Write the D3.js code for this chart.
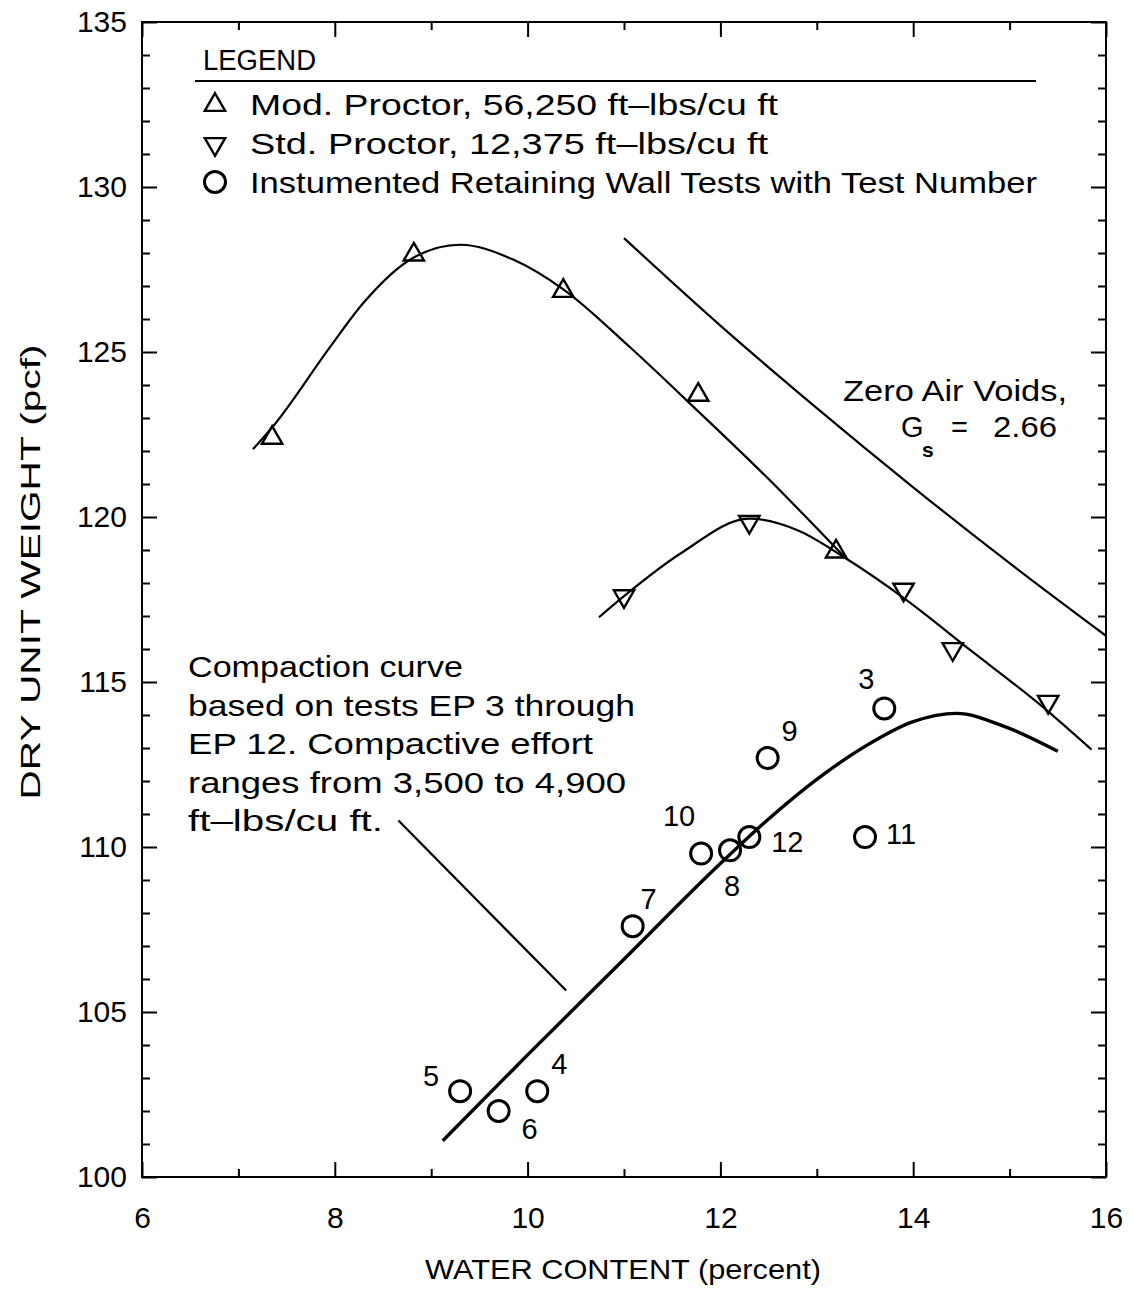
<!DOCTYPE html>
<html>
<head>
<meta charset="utf-8">
<script src="https://cdn.jsdelivr.net/npm/d3@7/dist/d3.min.js"></script>
<style>
  html, body { margin: 0; padding: 0; background: #fff; }
  svg text { font-family: "Liberation Sans", Arial, sans-serif; fill: #000; }
</style>
</head>
<body>
<svg id="chart" width="1134" height="1289"></svg>
<script>
// Compaction test data: water content (percent) vs dry unit weight (pcf)
const xMajorTicks = [6, 8, 10, 12, 14, 16];
const yMajorTicks = [100, 105, 110, 115, 120, 125, 130, 135];

// Modified Proctor points (upward triangles)
const modProctor = [[7.35, 122.4], [8.82, 127.95], [10.37, 126.85], [11.77, 123.7], [13.2, 118.95]];
// Standard Proctor points (downward triangles)
const stdProctor = [[11.0, 117.6], [12.3, 119.85], [13.9, 117.8], [14.41, 116.0], [15.4, 114.4]];
// Instrumented retaining wall tests: [test number, water content, dry unit weight]
const wallTests = [
  [3, 13.7, 114.2], [4, 10.1, 102.6], [5, 9.3, 102.6], [6, 9.7, 102.0],
  [7, 11.09, 107.6], [8, 12.1, 109.9], [9, 12.49, 112.7], [10, 11.8, 109.8],
  [11, 13.5, 110.3], [12, 12.3, 110.3]
];

// Fitted curves
const modCurve = [[7.15, 122.05], [7.36, 122.75], [7.95, 125.15], [8.3, 126.5], [8.81, 127.85],
  [9.3, 128.25], [9.85, 127.8], [10.37, 126.9], [11.06, 125.15], [11.77, 123.2],
  [12.5, 121.15], [13.3, 118.75]];
const stdCurve = [[10.74, 116.96], [11.0, 117.6], [11.59, 118.9], [12.3, 119.95],
  [12.8, 119.6], [13.3, 118.75], [13.9, 117.55], [14.6, 115.95], [15.3, 114.35], [15.85, 112.95]];
const zavCurve = [[11.0, 128.45], [12.0, 125.8], [13.0, 123.3], [14.0, 120.9], [15.0, 118.6], [16.0, 116.4]];
const fieldCurve = [[9.12, 101.1], [10.0, 103.7], [11.0, 106.6], [12.0, 109.5], [12.5, 110.85],
  [13.0, 112.05], [13.5, 113.05], [14.0, 113.8], [14.45, 114.05], [14.95, 113.65], [15.5, 112.9]];
// Leader from the note to the compaction curve
const leader = [[8.66, 110.8], [10.4, 105.65]];

const legendItems = [
  ["up", "Mod. Proctor, 56,250 ft\u2013lbs/cu ft"],
  ["down", "Std. Proctor, 12,375 ft\u2013lbs/cu ft"],
  ["circle", "Instumented Retaining Wall Tests with Test Number"]
];
const noteLines = [
  "Compaction curve",
  "based on tests EP 3 through",
  "EP 12.  Compactive effort",
  "ranges from 3,500 to 4,900",
  "ft\u2013lbs/cu ft."
];

// ---- layout ----
const svg = d3.select("#chart");
const L = 142, R = 1106, T = 22, B = 1177;
const x = d3.scaleLinear().domain([6, 16]).range([L, R]);
const y = d3.scaleLinear().domain([100, 135]).range([B, T]);

const lineGen = d3.line().x(d => x(d[0])).y(d => y(d[1]));
const smooth = d3.line().x(d => x(d[0])).y(d => y(d[1])).curve(d3.curveMonotoneX);

// frame
svg.append("rect").attr("x", L).attr("y", T).attr("width", R - L).attr("height", B - T)
  .attr("fill", "none").attr("stroke", "#000").attr("stroke-width", 2);

const xMinor = d3.range(7, 16, 2);
const yMinor = d3.range(100, 136, 1).filter(v => v % 5 !== 0);

function styleAxis(g) {
  g.select(".domain").remove();
  g.selectAll("line").attr("stroke", "#000").attr("stroke-width", 2);
  g.selectAll("text").style("font-size", "30px").attr("fill", "#000");
}

// bottom (labels + inward ticks)
svg.append("g").attr("transform", `translate(0,${B})`)
  .call(d3.axisBottom(x).tickValues(xMajorTicks).tickSizeInner(-15).tickSizeOuter(0).tickPadding(30).tickFormat(d3.format("d")))
  .call(styleAxis);
svg.append("g").attr("transform", `translate(0,${B})`)
  .call(d3.axisBottom(x).tickValues(xMinor).tickSize(-8).tickFormat(""))
  .call(styleAxis);
// top
svg.append("g").attr("transform", `translate(0,${T})`)
  .call(d3.axisTop(x).tickValues(xMajorTicks).tickSize(-15).tickFormat(""))
  .call(styleAxis);
svg.append("g").attr("transform", `translate(0,${T})`)
  .call(d3.axisTop(x).tickValues(xMinor).tickSize(-8).tickFormat(""))
  .call(styleAxis);
// left
svg.append("g").attr("transform", `translate(${L},0)`)
  .call(d3.axisLeft(y).tickValues(yMajorTicks).tickSizeInner(-15).tickSizeOuter(0).tickPadding(15).tickFormat(d3.format("d")))
  .call(styleAxis);
svg.append("g").attr("transform", `translate(${L},0)`)
  .call(d3.axisLeft(y).tickValues(yMinor).tickSize(-8).tickFormat(""))
  .call(styleAxis);
// right
svg.append("g").attr("transform", `translate(${R},0)`)
  .call(d3.axisRight(y).tickValues(yMajorTicks).tickSize(-15).tickFormat(""))
  .call(styleAxis);
svg.append("g").attr("transform", `translate(${R},0)`)
  .call(d3.axisRight(y).tickValues(yMinor).tickSize(-8).tickFormat(""))
  .call(styleAxis);

// axis titles
svg.append("text").attr("x", 623).attr("y", 1279).attr("text-anchor", "middle")
  .style("font-size", "28px").attr("textLength", 396).attr("lengthAdjust", "spacingAndGlyphs")
  .text("WATER CONTENT (percent)");
svg.append("text").attr("transform", "translate(40,572) rotate(-90)").attr("text-anchor", "middle")
  .style("font-size", "28px").attr("textLength", 455).attr("lengthAdjust", "spacingAndGlyphs")
  .text("DRY UNIT WEIGHT (pcf)");

// curves
const curves = svg.append("g").attr("fill", "none").attr("stroke", "#000");
curves.append("path").datum(modCurve).attr("d", smooth).attr("stroke-width", 2.2);
curves.append("path").datum(stdCurve).attr("d", smooth).attr("stroke-width", 2.2);
curves.append("path").datum(zavCurve).attr("d", smooth).attr("stroke-width", 2.2);
curves.append("path").datum(fieldCurve).attr("d", smooth).attr("stroke-width", 3.4);
curves.append("path").datum(leader).attr("d", lineGen).attr("stroke-width", 2.2);

// markers
const tri = d3.symbol().type(d3.symbolTriangle).size(180);
const marks = svg.append("g").attr("stroke", "#000").attr("stroke-width", 2.4).attr("fill", "none");
marks.selectAll(".mod").data(modProctor).join("path")
  .attr("d", tri())
  .attr("transform", d => `translate(${x(d[0])},${y(d[1])})`);
marks.selectAll(".std").data(stdProctor).join("path")
  .attr("d", tri())
  .attr("transform", d => `translate(${x(d[0])},${y(d[1])}) rotate(180)`);
marks.selectAll(".wall").data(wallTests).join("circle")
  .attr("cx", d => x(d[1])).attr("cy", d => y(d[2])).attr("r", 10.5)
  .attr("stroke-width", 3);

// test number labels, offset from each circle
const labelOffset = {3: [-18, -19], 4: [22, -17], 5: [-29, -5], 6: [31, 28], 7: [16, -17],
  8: [2, 46], 9: [22, -17], 10: [-22, -28], 11: [36, 7], 12: [38, 15]};
svg.append("g").selectAll("text").data(wallTests).join("text")
  .attr("x", d => x(d[1]) + labelOffset[d[0]][0])
  .attr("y", d => y(d[2]) + labelOffset[d[0]][1])
  .attr("text-anchor", "middle").style("font-size", "29px")
  .text(d => d[0]);

// legend
const lg = svg.append("g");
lg.append("text").attr("x", 203).attr("y", 70).style("font-size", "29px")
  .attr("textLength", 113).attr("lengthAdjust", "spacingAndGlyphs").text("LEGEND");
lg.append("line").attr("x1", 195).attr("x2", 1036).attr("y1", 81).attr("y2", 81)
  .attr("stroke", "#000").attr("stroke-width", 2.2);
const legendWidths = [528, 518, 787];
legendItems.forEach((it, i) => {
  const cy = 105 + i * 39;
  if (it[0] === "circle") {
    lg.append("circle").attr("cx", 215).attr("cy", cy - 1).attr("r", 10.5)
      .attr("fill", "none").attr("stroke", "#000").attr("stroke-width", 3);
  } else {
    lg.append("path").attr("d", tri())
      .attr("transform", `translate(215,${cy}) rotate(${it[0] === "up" ? 0 : 180})`)
      .attr("fill", "none").attr("stroke", "#000").attr("stroke-width", 2.4);
  }
  lg.append("text").attr("x", 250).attr("y", cy + 10).style("font-size", "29px")
    .attr("textLength", legendWidths[i]).attr("lengthAdjust", "spacingAndGlyphs").text(it[1]);
});

// note on the compaction curve
const noteWidths = [275, 447, 405, 438, 195];
noteLines.forEach((t, i) => {
  svg.append("text").attr("x", 188).attr("y", 677 + i * 38.6).style("font-size", "29px")
    .attr("textLength", noteWidths[i]).attr("lengthAdjust", "spacingAndGlyphs").text(t);
});

// zero air voids label
svg.append("text").attr("x", 1067).attr("y", 401).attr("text-anchor", "end").style("font-size", "29px")
  .attr("textLength", 224).attr("lengthAdjust", "spacingAndGlyphs").text("Zero Air Voids,");
const gsBase = 437;
svg.append("text").attr("x", 901).attr("y", gsBase).style("font-size", "29px").text("G");
svg.append("text").attr("x", 922).attr("y", gsBase + 20).style("font-size", "21px")
  .style("font-weight", "bold").text("s");
svg.append("text").attr("x", 951).attr("y", gsBase).style("font-size", "29px").text("=");
svg.append("text").attr("x", 993).attr("y", gsBase).style("font-size", "29px")
  .attr("textLength", 64).attr("lengthAdjust", "spacingAndGlyphs").text("2.66");
</script>
</body>
</html>
